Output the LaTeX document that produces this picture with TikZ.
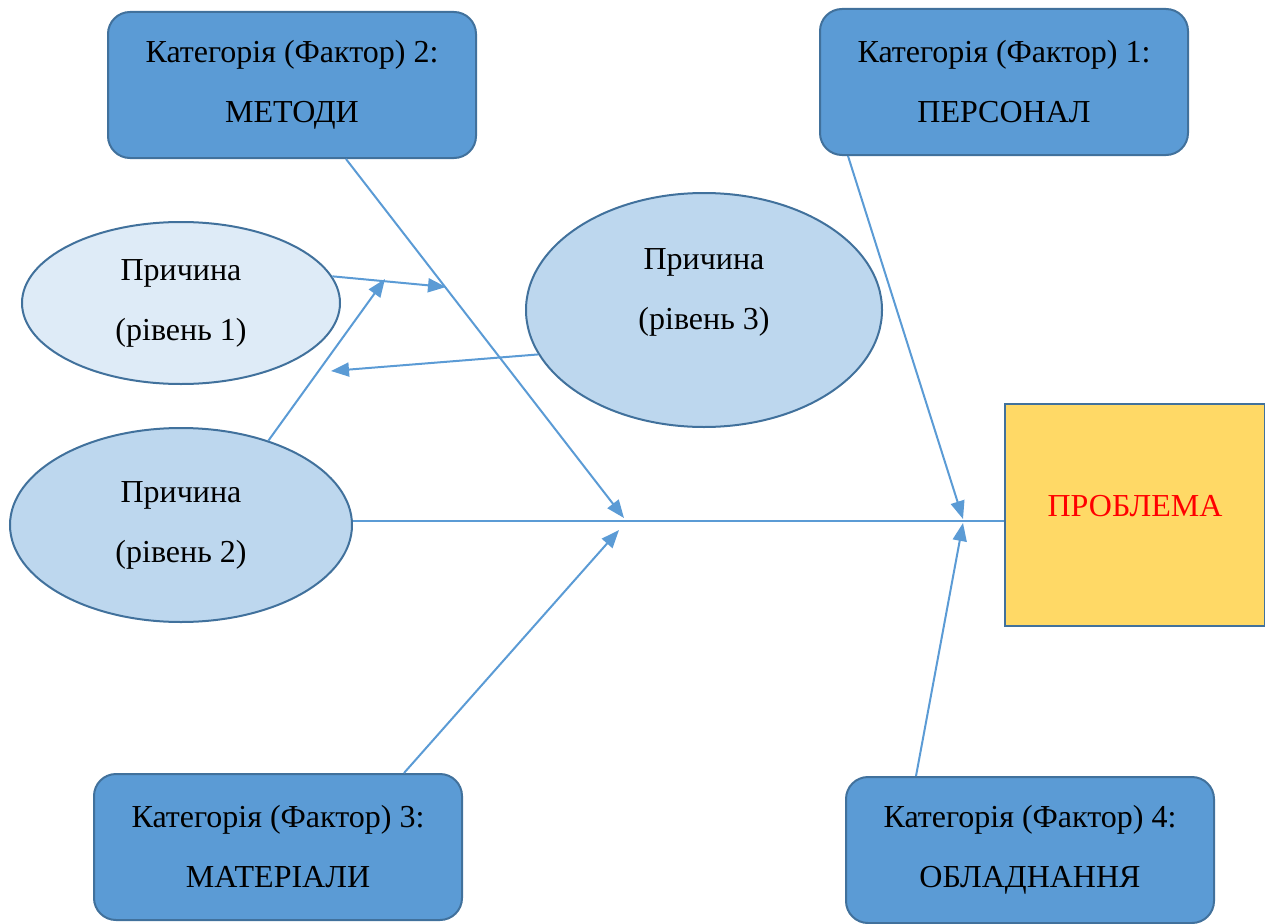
\documentclass[tikz,border=0pt]{standalone}
\usepackage{fontspec}
\setmainfont{Liberation Serif}
\usetikzlibrary{shapes.geometric, arrows.meta, calc}
\definecolor{catblue}{HTML}{5B9BD5}
\definecolor{edgeblue}{HTML}{41719C}
\definecolor{lightcause}{HTML}{DEEBF7}
\definecolor{midcause}{HTML}{BDD7EE}
\definecolor{probgold}{HTML}{FFD966}
\tikzstyle{factor} = [rectangle, rounded corners=22pt, minimum width=368pt, minimum height=146pt, align=center, draw=edgeblue, line width=2pt, fill=catblue]
\tikzstyle{cause} = [ellipse, align=center, draw=edgeblue, line width=2pt]
\tikzstyle{problem} = [rectangle, minimum width=260pt, minimum height=222pt, text=red, draw=edgeblue, line width=2pt, fill=probgold]
\tikzstyle{arrow} = [-{Triangle[length=18pt,width=14pt]}, draw=catblue, line width=2pt]
\tikzstyle{spine} = [draw=catblue, line width=1.5pt]
\begin{document}
\begin{tikzpicture}[x=1pt, y=-1pt, font=\fontsize{32}{60}\selectfont]
	\useasboundingbox (0,0) rectangle (1265,923);
	% категорії
	\node (F2) [factor] at (292,85) {Категорія (Фактор) 2:\\МЕТОДИ};
	\node (F1) [factor] at (1004,82) {Категорія (Фактор) 1:\\ПЕРСОНАЛ};
	\node (F3) [factor] at (278,847) {Категорія (Фактор) 3:\\МАТЕРІАЛИ};
	\node (F4) [factor] at (1030,850) {Категорія (Фактор) 4:\\ОБЛАДНАННЯ};
	\node (PR) [problem, label={[yshift=9pt, text=red]center:ПРОБЛЕМА}] at (1135,515) {};
	% причини
	\node (C1) [cause, fill=lightcause, minimum width=318pt, minimum height=162pt] at (181,303) {Причина\\(рівень 1)};
	\node (C2) [cause, fill=midcause, minimum width=342pt, minimum height=194pt] at (181,525) {Причина\\(рівень 2)};
	\node (C3) [cause, fill=midcause, minimum width=356pt, minimum height=234pt, label={[yshift=18pt, align=center]center:Причина\\(рівень 3)}] at (704,310) {};
	% точки на лініях
	\coordinate (J1) at (622,521);
	\coordinate (J2) at (963,521);
	\coordinate (J0) at (446,287);
	\coordinate (J3) at (385,279);
	\coordinate (J4) at (331,371);
	\draw [spine] (C2.east |- J1) -- (PR.west |- J1);
	\draw [arrow] ($(F2.south)+(54,0)$) -- ($(J1)+(2,-3)$);
	\draw [arrow] ($(F3.north)+(126,0)$) -- ($(J1)+(-3,9)$);
	\draw [arrow] ($(F1.south)+(-156,0)$) -- ($(J2)+(0,-2)$);
	\draw [arrow] ($(F4.north)+(-114,0)$) -- ($(J2)+(0,2)$);
	\draw [arrow] (C1.10) -- (J0);
	\draw [arrow] (C2.44) -- (J3);
	\draw [arrow] (C3.195) -- (J4);
\end{tikzpicture}
\end{document}
